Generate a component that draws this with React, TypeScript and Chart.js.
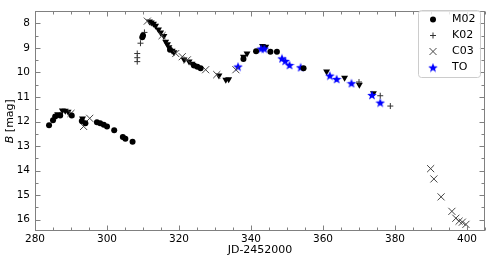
import React, { useEffect, useRef } from 'react';
import { Chart, registerables } from 'chart.js';
Chart.register(...registerables);

const xTicks = [280, 300, 320, 340, 360, 380, 400];
const yTicks = [8, 9, 10, 11, 12, 13, 14, 15, 16];

const m02X = [283.9, 285.0, 285.6, 287.0, 290.2, 293.0, 294.0, 297.2, 298.1, 299.1, 300.0, 302.0, 304.4, 305.1, 307.1, 309.8, 310.0, 317.5, 324.2, 325.1, 326.0, 337.9, 341.4, 345.4, 347.2, 354.6];
const m02Y = [12.15, 11.95, 11.8, 11.75, 11.75, 11.98, 12.07, 12.03, 12.07, 12.13, 12.2, 12.36, 12.63, 12.7, 12.82, 8.57, 8.5, 9.08, 9.72, 9.77, 9.83, 9.45, 9.14, 9.16, 9.16, 9.83];

const k02X = [308.4, 308.4, 308.4, 309.3, 310.4, 370.0, 375.9, 378.7];
const k02Y = [9.23, 9.4, 9.56, 8.81, 8.37, 10.39, 10.95, 11.37];

const c03X = [290.0, 293.5, 295.2, 311.2, 315.3, 319.1, 320.9, 322.3, 327.4, 330.5, 335.8, 389.9, 390.8, 392.8, 395.8, 396.9, 397.8, 398.7, 399.7];
const c03Y = [11.67, 12.2, 11.87, 7.91, 8.5, 9.23, 9.36, 9.49, 9.89, 10.09, 9.89, 13.92, 14.34, 15.07, 15.66, 15.94, 16.06, 16.1, 16.19];

const toX = [336.4, 342.8, 343.7, 348.6, 349.5, 350.7, 353.8, 361.9, 363.8, 367.9, 373.6, 375.9];
const toY = [9.76, 9.03, 9.03, 9.43, 9.53, 9.7, 9.79, 10.13, 10.27, 10.44, 10.92, 11.23];

const triX = [286.3, 287.6, 288.4, 289.2, 293.2, 311.8, 312.3, 312.9, 313.5, 314.3, 314.9, 315.8, 316.3, 316.8, 317.2, 318.1, 318.6, 321.4, 322.8, 323.6, 331.1, 333.0, 333.8, 337.9, 338.9, 343.2, 344.1, 361.0, 366.0, 370.1, 374.0];
const triY = [11.7, 11.55, 11.56, 11.6, 11.88, 7.93, 7.97, 8.02, 8.1, 8.25, 8.37, 8.52, 8.75, 8.85, 8.97, 9.12, 9.18, 9.47, 9.56, 9.65, 10.13, 10.3, 10.28, 9.36, 9.23, 8.92, 8.95, 9.96, 10.22, 10.5, 10.85];

const legendLabels = ['M02', 'K02', 'C03', 'TO'];

const FONT = "'DejaVu Sans', sans-serif";

function pts(xs: number[], ys: number[]) {
  return xs.map((x, i) => ({ x, y: ys[i] }));
}

function starPath(ctx: CanvasRenderingContext2D, cx: number, cy: number, R: number) {
  const r = R * 0.42;
  ctx.beginPath();
  for (let i = 0; i < 10; i++) {
    const a = -Math.PI / 2 + (i * Math.PI) / 5;
    const rad = i % 2 === 0 ? R : r;
    const px = cx + rad * Math.cos(a);
    const py = cy + rad * Math.sin(a);
    if (i === 0) ctx.moveTo(px, py);
    else ctx.lineTo(px, py);
  }
  ctx.closePath();
}

function makeStar(size: number, color: string) {
  const c = document.createElement('canvas');
  c.width = size;
  c.height = size;
  const ctx = c.getContext('2d')!;
  ctx.fillStyle = color;
  starPath(ctx, size / 2, size / 2 + 0.5, size / 2);
  ctx.fill();
  return c;
}

export default function App() {
  const ref = useRef<HTMLCanvasElement>(null);

  useEffect(() => {
    const canvas = ref.current!;
    const star = makeStar(10, '#0000ff');

    const framePlugin = {
      id: 'frame',
      afterDraw(chart: any) {
        const ctx = chart.ctx as CanvasRenderingContext2D;
        const { left, right, top, bottom } = chart.chartArea;
        const xs = chart.scales.x;
        const ys = chart.scales.y;
        ctx.save();
        ctx.strokeStyle = '#808080';
        ctx.lineWidth = 1;
        const L = Math.round(left) + 0.5, R = Math.round(right) - 0.5;
        const T = Math.round(top) + 0.5, B = Math.round(bottom) - 0.5;
        ctx.strokeRect(L, T, R - L, B - T);
        ctx.beginPath();
        for (let v = 280; v <= 405; v += 5) {
          const major = v % 20 === 0;
          const len = major ? 5 : 3;
          const px = Math.round(xs.getPixelForValue(v)) + 0.5;
          ctx.moveTo(px, B);
          ctx.lineTo(px, B - len);
          ctx.moveTo(px, T);
          ctx.lineTo(px, T + len);
        }
        for (let v = 7.5; v <= 16.5; v += 0.5) {
          if (v < ys.min || v > ys.max) continue;
          const major = Math.abs(v - Math.round(v)) < 1e-6;
          const len = major ? 5 : 3;
          const py = Math.round(ys.getPixelForValue(v)) + 0.5;
          ctx.moveTo(L, py);
          ctx.lineTo(L + len, py);
          ctx.moveTo(R, py);
          ctx.lineTo(R - len, py);
        }
        ctx.stroke();

        // axis titles
        ctx.fillStyle = '#000';
        ctx.textBaseline = 'middle';
        ctx.textAlign = 'center';
        ctx.font = `11px ${FONT}`;
        ctx.fillText('JD-2452000', (left + right) / 2, 250);

        ctx.save();
        ctx.translate(10, (top + bottom) / 2);
        ctx.rotate(-Math.PI / 2);
        ctx.font = `italic 11px ${FONT}`;
        const wB = ctx.measureText('B').width;
        ctx.font = `11px ${FONT}`;
        const wRest = ctx.measureText(' [mag]').width;
        const total = wB + wRest;
        ctx.textAlign = 'left';
        ctx.font = `italic 11px ${FONT}`;
        ctx.fillText('B', -total / 2, 0);
        ctx.font = `11px ${FONT}`;
        ctx.fillText(' [mag]', -total / 2 + wB, 0);
        ctx.restore();

        // legend
        const bx = 418.5, by = 10.5, bw = 62, bh = 67;
        ctx.fillStyle = 'rgba(255,255,255,0.8)';
        ctx.strokeStyle = '#cccccc';
        ctx.beginPath();
        (ctx as any).roundRect(bx, by, bw, bh, 3);
        ctx.fill();
        ctx.stroke();

        const rows = [19.5, 35.5, 51.5, 67.5];
        const mx = 433;
        rows.forEach((ry, i) => {
          ctx.save();
          if (i === 0) {
            ctx.fillStyle = '#000';
            ctx.beginPath();
            ctx.arc(mx, ry, 3, 0, Math.PI * 2);
            ctx.fill();
          } else if (i === 1) {
            ctx.strokeStyle = '#333';
            ctx.lineWidth = 1;
            ctx.beginPath();
            ctx.moveTo(mx - 3, ry);
            ctx.lineTo(mx + 3, ry);
            ctx.moveTo(mx, ry - 3);
            ctx.lineTo(mx, ry + 3);
            ctx.stroke();
          } else if (i === 2) {
            ctx.strokeStyle = '#444';
            ctx.lineWidth = 1;
            ctx.beginPath();
            ctx.moveTo(mx - 3.5, ry - 3.5);
            ctx.lineTo(mx + 3.5, ry + 3.5);
            ctx.moveTo(mx + 3.5, ry - 3.5);
            ctx.lineTo(mx - 3.5, ry + 3.5);
            ctx.stroke();
          } else {
            ctx.drawImage(star, mx - 5, ry - 5);
          }
          ctx.restore();
          ctx.fillStyle = '#000';
          ctx.font = `11px ${FONT}`;
          ctx.textAlign = 'left';
          ctx.textBaseline = 'middle';
          ctx.fillText(legendLabels[i], 452, ry);
        });
        ctx.restore();
      },
    };

    const tickFont = { family: FONT, size: 10.5 };

    const chart = new Chart(canvas, {
      type: 'scatter',
      data: {
        datasets: [
          {
            label: legendLabels[0],
            data: pts(m02X, m02Y),
            pointStyle: 'circle',
            pointRadius: 3,
            backgroundColor: '#000',
            borderColor: '#000',
            borderWidth: 0,
          },
          {
            label: legendLabels[1],
            data: pts(k02X, k02Y),
            pointStyle: 'cross',
            pointRadius: 3,
            borderColor: '#333',
            borderWidth: 1,
          },
          {
            label: legendLabels[2],
            data: pts(c03X, c03Y),
            pointStyle: 'crossRot',
            pointRadius: 5,
            borderColor: '#444',
            borderWidth: 1,
          },
          {
            label: legendLabels[3],
            data: pts(toX, toY),
            pointStyle: star as any,
            pointRadius: 5,
          },
          {
            label: '',
            data: pts(triX, triY),
            pointStyle: 'triangle',
            rotation: 180,
            pointRadius: 4,
            backgroundColor: '#000',
            borderColor: '#000',
            borderWidth: 0,
          } as any,
        ],
      },
      options: {
        animation: false,
        responsive: false,
        devicePixelRatio: 1,
        layout: { padding: { left: 0, right: 6, top: 5, bottom: 0 } },
        plugins: { legend: { display: false }, tooltip: { enabled: false } },
        scales: {
          x: {
            type: 'linear',
            min: 280,
            max: 405,
            afterBuildTicks: (s: any) => {
              s.ticks = xTicks.map((v) => ({ value: v }));
            },
            afterFit: (s: any) => {
              s.height = 31;
            },
            grid: { display: false, drawTicks: false },
            border: { display: false },
            ticks: { font: tickFont, color: '#000', padding: 2, maxRotation: 0, autoSkip: false },
          },
          y: {
            type: 'linear',
            reverse: true,
            min: 7.51,
            max: 16.46,
            afterBuildTicks: (s: any) => {
              s.ticks = yTicks.map((v) => ({ value: v }));
            },
            afterFit: (s: any) => {
              s.width = 35;
            },
            grid: { display: false, drawTicks: false },
            border: { display: false },
            ticks: { font: tickFont, color: '#000', padding: 5, autoSkip: false },
          },
        },
      },
      plugins: [framePlugin],
    });
    return () => chart.destroy();
  }, []);

  return (
    <div style={{ position: 'fixed', left: 0, top: 0, width: 491, height: 262, background: '#fff' }}>
      <canvas ref={ref} width={491} height={262} style={{ width: 491, height: 262, display: 'block' }} />
    </div>
  );
}
